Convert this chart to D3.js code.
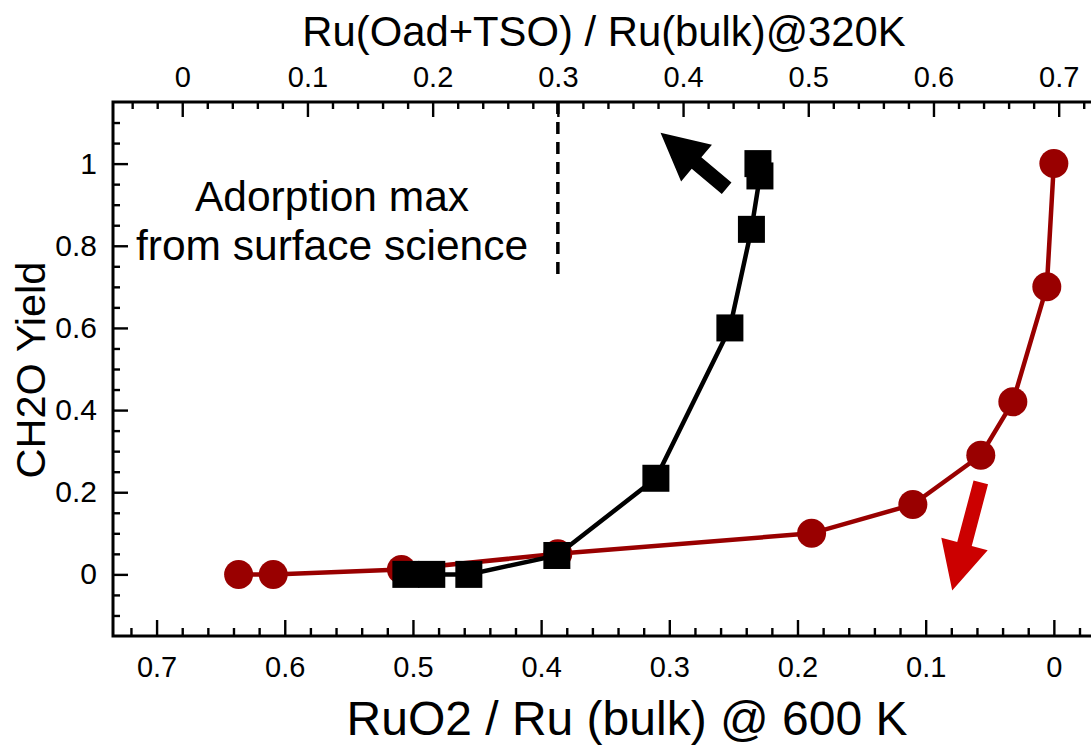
<!DOCTYPE html>
<html>
<head>
<meta charset="utf-8">
<script src="https://cdn.jsdelivr.net/npm/d3@7"></script>
<style>
  html, body { margin: 0; padding: 0; background: #fff; overflow: hidden; }
  svg { display: block; }
  text { font-family: "Liberation Sans", Arial, Helvetica, sans-serif; fill: #000; }
</style>
</head>
<body>
<svg id="chart" width="1091" height="745"></svg>
<script>
// RuO2 / Ru (bulk) at 600 K (bottom axis) vs CH2O yield — red circles
const redRatio = [0.636, 0.609, 0.509, 0.387, 0.189, 0.110, 0.057, 0.032, 0.0055, 0.0];
const redYield = [0.0, 0.0, 0.012, 0.05, 0.10, 0.17, 0.29, 0.42, 0.70, 1.00];

// Ru(Oad+TSO) / Ru(bulk) at 320 K (top axis) vs CH2O yield — black squares
const blackRatio = [0.1786, 0.1993, 0.2289, 0.2992, 0.3783, 0.4374, 0.4546, 0.4614, 0.4598];
const blackYield = [0.0, 0.0, 0.0, 0.046, 0.234, 0.60, 0.84, 0.97, 1.00];

// Tick labels
const bottomTicks = [0.7, 0.6, 0.5, 0.4, 0.3, 0.2, 0.1, 0];
const topTicks = [0, 0.1, 0.2, 0.3, 0.4, 0.5, 0.6, 0.7];
const yTicks = [0, 0.2, 0.4, 0.6, 0.8, 1];

// Annotation: adsorption limit from surface science (top-axis value)
const adsorptionMax = 0.3;
const adsorptionTop = 0.73;
const annotationLines = ["Adorption max", "from surface science"];

// Trend arrows, given in data units [x, y] tail -> tip
const blackArrow = { from: [0.4348, 0.940], to: [0.382, 1.075] };
const redArrow = { from: [0.057, 0.224], to: [0.0793, -0.039] };

const svg = d3.select("#chart");
const margin = { left: 113, top: 102 };
const W = 987, H = 534;

const xBottom = d3.scaleLinear().domain([0.734, -0.036]).range([0, W]);
const xTop = d3.scaleLinear().domain([-0.0553, 0.733]).range([0, W]);
const y = d3.scaleLinear().domain([-0.15, 1.15]).range([H, 0]);

const g = svg.append("g").attr("transform", `translate(${margin.left},${margin.top})`);

const fmt = d => (d === 0 ? "0" : d3.format(".1f")(d));
const near = (v, arr) => arr.some(t => Math.abs(t - v) < 1e-6);

// Minor tick positions
const xMinor = d3.range(-0.04, 0.7401, 0.02).map(v => +v.toFixed(2));
const yMinor = d3.range(-0.1, 1.1001, 0.05).map(v => +v.toFixed(2)).filter(v => !near(v, yTicks));

function styleAxis(sel, size) {
  sel.select(".domain").remove();
  sel.selectAll(".tick line").attr("stroke", "#000").attr("stroke-width", 2.4);
  sel.selectAll(".tick text").attr("font-size", size);
}

// Bottom axis
g.append("g").attr("transform", `translate(0,${H})`)
  .call(d3.axisBottom(xBottom).tickValues(xMinor.filter(v => !near(v, bottomTicks) && xBottom(v) > 2 && xBottom(v) < W)).tickSize(-8).tickFormat(""))
  .call(s => styleAxis(s, 29));
g.append("g").attr("transform", `translate(0,${H})`)
  .call(d3.axisBottom(xBottom).tickValues(bottomTicks).tickSize(-16).tickPadding(20).tickFormat(fmt))
  .call(s => styleAxis(s, 29));

// Top axis
g.append("g")
  .call(d3.axisTop(xTop).tickValues(xMinor.filter(v => !near(v, topTicks) && xTop(v) > 2 && xTop(v) < W)).tickSize(-7).tickFormat(""))
  .call(s => styleAxis(s, 29));
g.append("g")
  .call(d3.axisTop(xTop).tickValues(topTicks).tickSize(-15).tickPadding(15).tickFormat(fmt))
  .call(s => styleAxis(s, 29));

// Left axis
g.append("g")
  .call(d3.axisLeft(y).tickValues(yMinor).tickSize(-7).tickFormat(""))
  .call(s => styleAxis(s, 30));
g.append("g")
  .call(d3.axisLeft(y).tickValues(yTicks).tickSize(-15).tickPadding(16).tickFormat(d => (d === 1 ? "1" : fmt(d))))
  .call(s => styleAxis(s, 30));

// Frame
g.append("rect").attr("x", 0).attr("y", 0).attr("width", W).attr("height", H)
  .attr("fill", "none").attr("stroke", "#000").attr("stroke-width", 3);

// Dashed adsorption-limit line
g.append("line")
  .attr("x1", xTop(adsorptionMax)).attr("x2", xTop(adsorptionMax))
  .attr("y1", 0).attr("y2", y(adsorptionTop))
  .attr("stroke", "#000").attr("stroke-width", 3.5).attr("stroke-dasharray", "12,8");

g.append("text")
  .attr("x", 219).attr("text-anchor", "middle").attr("font-size", 42.5)
  .selectAll("tspan").data(annotationLines).join("tspan")
  .attr("x", 219).attr("y", (d, i) => 109 + i * 49).text(d => d);

// Red series
const red = redRatio.map((v, i) => [v, redYield[i]]);
const redColor = "#990000";
g.append("path").datum(red)
  .attr("fill", "none").attr("stroke", redColor).attr("stroke-width", 4.5)
  .attr("d", d3.line().x(d => xBottom(d[0])).y(d => y(d[1])));
g.selectAll("circle.red").data(red).join("circle")
  .attr("class", "red")
  .attr("cx", d => xBottom(d[0])).attr("cy", d => y(d[1])).attr("r", 14.5)
  .attr("fill", redColor);

// Black series
const black = blackRatio.map((v, i) => [v, blackYield[i]]);
g.append("path").datum(black)
  .attr("fill", "none").attr("stroke", "#000").attr("stroke-width", 4.5)
  .attr("d", d3.line().x(d => xTop(d[0])).y(d => y(d[1])));
const sq = 27;
g.selectAll("rect.black").data(black).join("rect")
  .attr("class", "black")
  .attr("x", d => xTop(d[0]) - sq / 2).attr("y", d => y(d[1]) - sq / 2)
  .attr("width", sq).attr("height", sq).attr("fill", "#000");

// Block arrows
function arrowPath(p0, p1, shaft, headW, headL) {
  const dx = p1[0] - p0[0], dy = p1[1] - p0[1];
  const len = Math.hypot(dx, dy);
  const ux = dx / len, uy = dy / len, nx = -uy, ny = ux;
  const bx = p1[0] - ux * headL, by = p1[1] - uy * headL;
  const pts = [
    [p0[0] + nx * shaft / 2, p0[1] + ny * shaft / 2],
    [bx + nx * shaft / 2, by + ny * shaft / 2],
    [bx + nx * headW / 2, by + ny * headW / 2],
    p1,
    [bx - nx * headW / 2, by - ny * headW / 2],
    [bx - nx * shaft / 2, by - ny * shaft / 2],
    [p0[0] - nx * shaft / 2, p0[1] - ny * shaft / 2]
  ];
  return "M" + pts.map(p => p.join(",")).join("L") + "Z";
}
g.append("path")
  .attr("d", arrowPath([xTop(blackArrow.from[0]), y(blackArrow.from[1])],
                       [xTop(blackArrow.to[0]), y(blackArrow.to[1])], 15, 48, 47))
  .attr("fill", "#000");
g.append("path")
  .attr("d", arrowPath([xBottom(redArrow.from[0]), y(redArrow.from[1])],
                       [xBottom(redArrow.to[0]), y(redArrow.to[1])], 15, 48, 48))
  .attr("fill", "#cc0000");

// Axis titles
svg.append("text").attr("x", 604).attr("y", 46).attr("text-anchor", "middle")
  .attr("font-size", 41.8).text("Ru(Oad+TSO) / Ru(bulk)@320K");
svg.append("text").attr("x", 627).attr("y", 735).attr("text-anchor", "middle")
  .attr("font-size", 48).text("RuO2 / Ru (bulk) @ 600 K");
svg.append("text").attr("transform", "translate(45,370) rotate(-90)").attr("text-anchor", "middle")
  .attr("font-size", 41.5).text("CH2O Yield");
</script>
</body>
</html>
